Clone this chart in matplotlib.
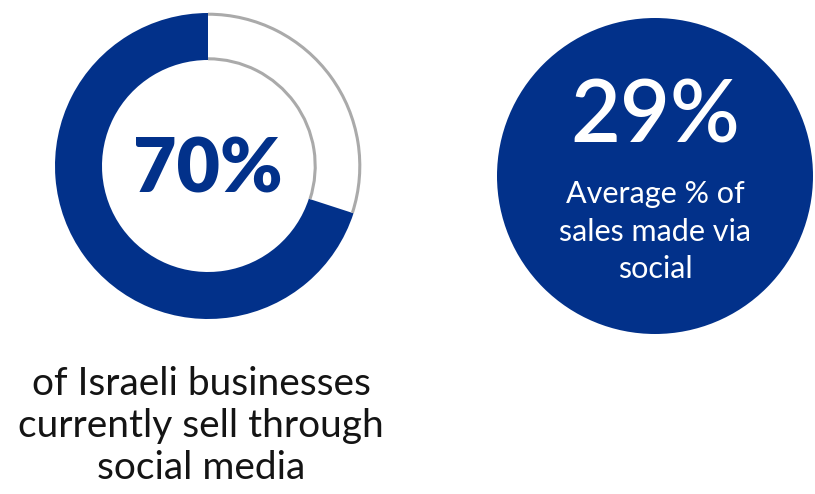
import matplotlib
matplotlib.use("Agg")
import matplotlib.pyplot as plt
from matplotlib.patches import Wedge, Circle, Arc

# Figures
share_selling_social = 70      # % of Israeli businesses selling via social media
avg_sales_via_social = 29      # average % of sales made via social
donut_caption = ["of Israeli businesses", "currently sell through", "social media"]
circle_caption = ["Average % of", "sales made via", "social"]

BLUE = "#02318a"
GREY = "#aaaaaa"
INK = "#141414"

plt.rcParams["font.family"] = ["Lato", "DejaVu Sans"]

W, H = 815, 494
fig = plt.figure(figsize=(W / 100, H / 100), dpi=100)
ax = fig.add_axes([0, 0, 1, 1])
ax.set_xlim(0, W)
ax.set_ylim(H, 0)
ax.set_aspect("equal")
ax.axis("off")

# Donut: filled share starts at 12 o'clock and runs counter-clockwise
cx, cy, r_out, r_in = 208, 166, 153, 106
start = 90
end = start + 360 * share_selling_social / 100
# y axis is inverted, so angles are negated
ax.add_patch(Wedge((cx, cy), r_out, -end, -start, width=r_out - r_in,
                   facecolor=BLUE, edgecolor="none"))
# outlined remainder (outer and inner arcs only)
for r in (r_out - 1.2, r_in + 1.2):
    ax.add_patch(Arc((cx, cy), 2 * r, 2 * r, theta1=-start, theta2=-(end - 360),
                     color=GREY, lw=2.2))

ax.text(cx, cy + 4, f"{share_selling_social}%", ha="center", va="center",
        fontsize=54, fontweight="heavy", color=BLUE)

for i, line in enumerate(donut_caption):
    ax.text(201, 384 + i * 42, line, ha="center", va="center",
            fontsize=28, color=INK)

# Solid circle with average share
ccx, ccy, cr = 655, 176, 158
ax.add_patch(Circle((ccx, ccy), cr, facecolor=BLUE, edgecolor="none"))
ax.text(ccx, 118, f"{avg_sales_via_social}%", ha="center", va="center",
        fontsize=62, color="white", fontweight="semibold")
for i, line in enumerate(circle_caption):
    ax.text(ccx, 194 + i * 37.5, line, ha="center", va="center",
            fontsize=22, color="white")

fig.savefig("out.png", dpi=100, facecolor="white")
